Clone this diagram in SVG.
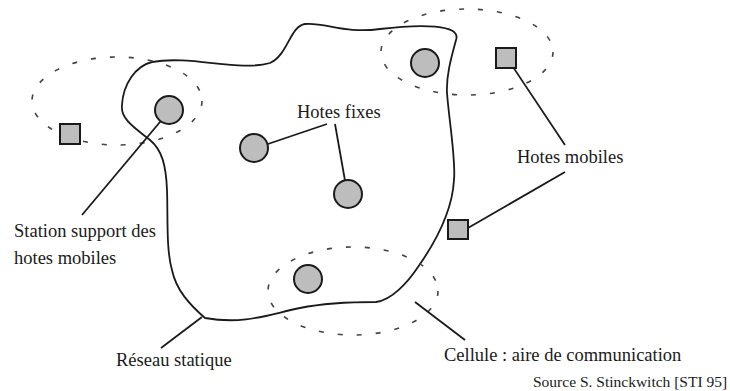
<svg xmlns="http://www.w3.org/2000/svg" width="730" height="391" viewBox="0 0 730 391">
<style>
.lbl{font-family:"Liberation Serif","Times New Roman",serif;font-size:18.5px;fill:#1a1a1a}
.src{font-family:"Liberation Serif","Times New Roman",serif;font-size:15.5px;fill:#1a1a1a}
.cell{fill:none;stroke:#444;stroke-width:1.6;stroke-dasharray:5 14}
.host{fill:#bdbdbd;stroke:#1a1a1a;stroke-width:2}
.mob{fill:#bdbdbd;stroke:#1a1a1a;stroke-width:2}
.ln{stroke:#1a1a1a;stroke-width:1.8;fill:none}
</style>
<rect width="730" height="391" fill="#fff"/>
<g id="reseau">
<path class="ln" d="M152,62 C190,55 240,72 270,63 C288,55 290,26 305,24 C325,22 345,34 380,29 C420,24 462,24 456,40 C452,55 446,75 447,93 C449,120 456,160 454,180 C452,215 430,250 418,267 C408,282 392,300 376,302 C350,302 320,304 300,308 C270,314 245,325 205,318 C190,305 176,290 172,270 C166,250 168,215 167,190 C166,165 162,150 150,140 C138,130 120,120 122,105 C123,85 135,66 152,62 Z"/>
</g>
<g id="cellules">
<ellipse id="cell-left" class="cell" cx="117" cy="101" rx="85" ry="44"/>
<ellipse id="cell-top" class="cell" cx="467" cy="52" rx="86" ry="43"/>
<ellipse id="cell-bottom" class="cell" cx="353" cy="291" rx="85" ry="44"/>
</g>
<g id="connectors">
<line class="ln" x1="165" y1="116" x2="82" y2="215"/>
<line class="ln" x1="327" y1="124" x2="262" y2="146"/>
<line class="ln" x1="335" y1="124" x2="347" y2="192"/>
<line class="ln" x1="507" y1="58" x2="565" y2="145"/>
<line class="ln" x1="565" y1="172" x2="461" y2="232"/>
<line class="ln" x1="202" y1="317" x2="161" y2="348"/>
<line class="ln" x1="415" y1="302" x2="465" y2="340"/>
</g>
<g id="station-left"><circle class="host" cx="169" cy="110" r="14"/></g>
<g id="fixe-1"><circle class="host" cx="254" cy="148" r="14"/></g>
<g id="fixe-2"><circle class="host" cx="348" cy="194" r="14"/></g>
<g id="station-top"><circle class="host" cx="425" cy="63" r="14"/></g>
<g id="station-bottom"><circle class="host" cx="308" cy="279" r="14"/></g>
<g id="mobile-left"><rect class="mob" x="60" y="124" width="20" height="20"/></g>
<g id="mobile-top"><rect class="mob" x="496" y="48" width="20" height="20"/></g>
<g id="mobile-right"><rect class="mob" x="448" y="220" width="20" height="19"/></g>
<g id="labels">
<text class="lbl" x="297" y="118">Hotes fixes</text>
<text class="lbl" x="517" y="163">Hotes mobiles</text>
<text class="lbl" x="14" y="237">Station support des</text>
<text class="lbl" x="14" y="264">hotes mobiles</text>
<text class="lbl" x="116" y="366">Réseau statique</text>
<text class="lbl" x="444" y="361">Cellule : aire de communication</text>
<text class="src" x="533" y="387">Source S. Stinckwitch [STI 95]</text>
</g>
</svg>
